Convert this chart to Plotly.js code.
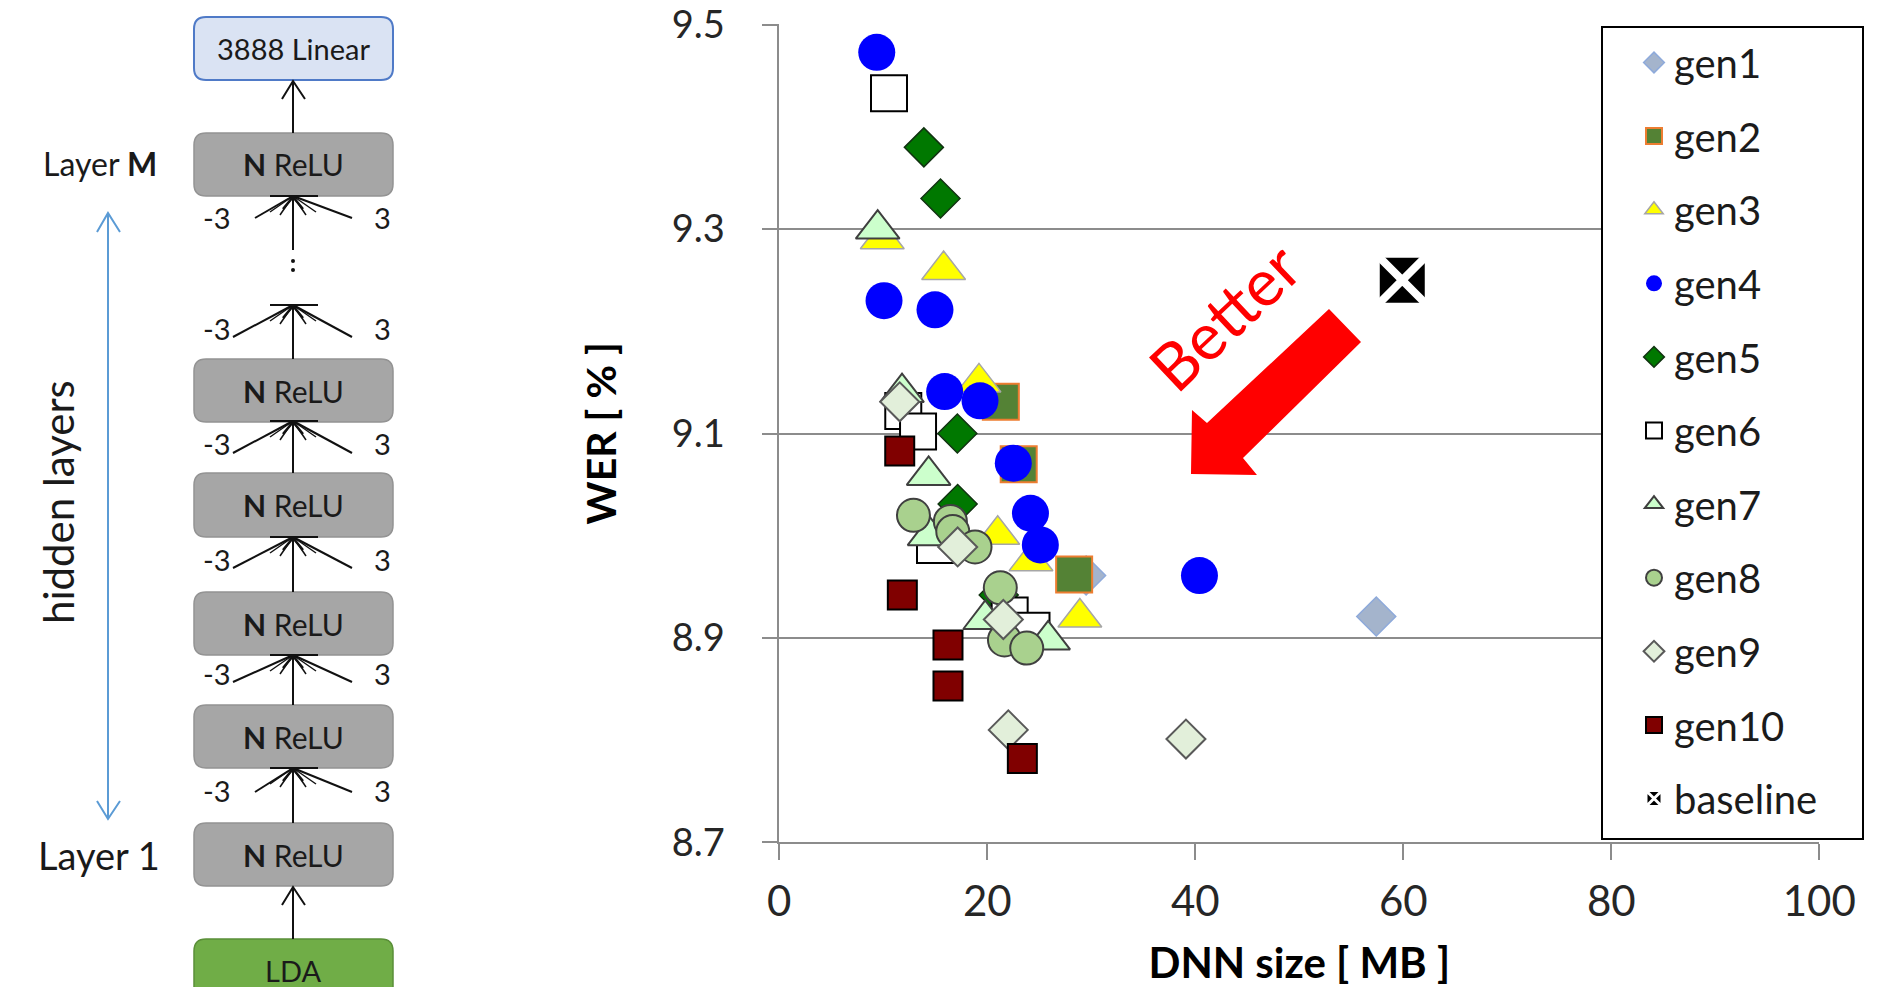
<!DOCTYPE html>
<html><head><meta charset="utf-8">
<script src="https://cdn.plot.ly/plotly-3.0.1.min.js"></script>
<style>html,body{margin:0;padding:0;background:#fff;overflow:hidden}#chart{width:1896px;height:987px}</style>
</head><body><div id="chart"></div>
<script>
// ---------------- data ----------------
const seriesNames = ['gen1','gen2','gen3','gen4','gen5','gen6','gen7','gen8','gen9','gen10','baseline'];
const gen1X = [29.5, 57.4];
const gen1Y = [8.961, 8.921];
const gen2X = [21.3, 23.02, 28.35];
const gen2Y = [9.131, 9.070, 8.962];
const gen3X = [9.9, 15.8, 19.2, 21.0, 24.2, 28.9];
const gen3Y = [9.290, 9.260, 9.150, 9.001, 8.975, 8.920];
const gen4X = [9.37, 10.07, 14.97, 15.9, 19.3, 22.5, 24.15, 25.1, 40.4];
const gen4Y = [9.473, 9.230, 9.221, 9.141, 9.132, 9.071, 9.022, 8.991, 8.961];
const gen5X = [13.9, 15.5, 17.12, 17.15, 21.1];
const gen5Y = [9.380, 9.330, 9.100, 9.031, 8.942];
const gen6X = [10.55, 11.92, 13.34, 14.97, 22.15, 24.25];
const gen6Y = [9.433, 9.122, 9.102, 8.991, 8.922, 8.907];
const gen7X = [9.46, 11.8, 14.36, 14.45, 19.8, 25.85];
const gen7Y = [9.300, 9.140, 9.059, 9.000, 8.918, 8.898];
const gen8X = [12.9, 16.45, 16.68, 18.82, 21.25, 21.65, 23.79];
const gen8Y = [9.020, 9.014, 9.004, 8.989, 8.949, 8.898, 8.890];
const gen9X = [11.58, 17.15, 21.54, 22.02, 39.1];
const gen9Y = [9.131, 8.989, 8.918, 8.810, 8.801];
const gen10X = [11.58, 11.83, 16.22, 16.22, 23.37];
const gen10Y = [9.083, 8.942, 8.893, 8.853, 8.782];
const baselineX = [59.9];
const baselineY = [9.250];
const xTickVals = [0, 20, 40, 60, 80, 100];
const yTickVals = [8.7, 8.9, 9.1, 9.3, 9.5];

const seriesX = [gen1X, gen2X, gen3X, gen4X, gen5X, gen6X, gen7X, gen8X, gen9X, gen10X, baselineX];
const seriesY = [gen1Y, gen2Y, gen3Y, gen4Y, gen5Y, gen6Y, gen7Y, gen8Y, gen9Y, gen10Y, baselineY];

// ---------------- styles ----------------
const markerStyles = [
  {symbol:'diamond', size:30, color:'#a4b4cc', line:{color:'#8eaadb', width:1.5}},
  {symbol:'square', size:36, color:'#548235', line:{color:'#ed7d31', width:2}},
  {symbol:'triangle-up', size:38, color:'#ffff00', line:{color:'#a6a6a6', width:1.5}},
  {symbol:'circle', size:37, color:'#0000ff', line:{color:'#0000ff', width:0}},
  {symbol:'diamond', size:30, color:'#007800', line:{color:'#113311', width:1.5}},
  {symbol:'square', size:36, color:'#ffffff', line:{color:'#000000', width:2}},
  {symbol:'triangle-up', size:38, color:'#ccffcc', line:{color:'#3f3f3f', width:2}},
  {symbol:'circle', size:33, color:'#a9d18e', line:{color:'#404040', width:2}},
  {symbol:'diamond', size:30, color:'#e2efda', line:{color:'#595959', width:2}},
  {symbol:'square', size:29, color:'#800000', line:{color:'#000000', width:2}},
  {symbol:'square-x', size:48, color:'#000000', line:{color:'#ffffff', width:3}}
];

const traces = seriesNames.map((n, i) => ({
  type:'scatter', mode:'markers', name:n, legendgroup:n,
  x: seriesX[i], y: seriesY[i], marker: markerStyles[i], hoverinfo:'skip'
}));
// thicker white cross on the baseline marker (plot only)
traces.push({type:'scatter', mode:'markers', x: baselineX, y: baselineY, showlegend:false, hoverinfo:'skip',
  legendgroup:'baseline', marker:{symbol:'x-thin', size:58, line:{color:'#ffffff', width:8}}});

// ---------------- page geometry helpers (pixels -> paper) ----------------
const W = 1896, H = 987;
const px = v => v / W;
const py = v => 1 - v / H;
const P = (x, y) => px(x).toFixed(5) + ',' + py(y).toFixed(5);

const shapes = [];
const annotations = [];
const FONT = 'Lato, "Open Sans", sans-serif';
const TXT = '#1a1a1a';

function line(x0, y0, x1, y1, color, w) {
  shapes.push({type:'line', xref:'paper', yref:'paper', x0:px(x0), y0:py(y0), x1:px(x1), y1:py(y1), line:{color:color, width:w}});
}
function poly(pts, color, w) {
  shapes.push({type:'path', xref:'paper', yref:'paper', path:'M' + pts.map(p => P(p[0], p[1])).join(' L'), line:{color:color, width:w}, fillcolor:'rgba(0,0,0,0)'});
}
function roundRect(x0, y0, x1, y1, r, fill, stroke, w) {
  const d = 'M' + P(x0 + r, y0) + ' L' + P(x1 - r, y0) + ' Q' + P(x1, y0) + ' ' + P(x1, y0 + r) +
    ' L' + P(x1, y1 - r) + ' Q' + P(x1, y1) + ' ' + P(x1 - r, y1) + ' L' + P(x0 + r, y1) +
    ' Q' + P(x0, y1) + ' ' + P(x0, y1 - r) + ' L' + P(x0, y0 + r) + ' Q' + P(x0, y0) + ' ' + P(x0 + r, y0) + ' Z';
  shapes.push({type:'path', xref:'paper', yref:'paper', path:d, fillcolor:fill, line:{color:stroke, width:w}, layer:'above'});
}
function text(x, y, t, size, opts) {
  annotations.push(Object.assign({xref:'paper', yref:'paper', x:px(x), y:py(y), text:t, showarrow:false,
    xanchor:'center', yanchor:'middle', font:{family:FONT, size:size, color:TXT}}, opts || {}));
}

// ---------------- left diagram ----------------
const BX0 = 194, BX1 = 393, CX = 293;
roundRect(BX0, 17, BX1, 80, 12, '#dae3f3', '#4f7ac7', 2);
text(CX, 48, '3888 Linear', 29);
const reluBoxes = [[133,196],[359,422],[473,537],[592,655],[705,768],[823,886]];
reluBoxes.forEach(b => {
  roundRect(BX0, b[0], BX1, b[1], 12, '#a6a6a6', '#939393', 1.5);
  text(CX, (b[0] + b[1]) / 2, '<b>N</b> ReLU', 30);
});
roundRect(BX0, 939, BX1, 1010, 12, '#70ad47', '#5a8f38', 1.5);
text(CX, 970, 'LDA', 29);

// arrows between boxes
line(CX, 133, CX, 81, '#111', 2);
poly([[282, 99], [CX, 81], [305, 99]], '#111', 2);
line(CX, 939, CX, 887, '#111', 2);
poly([[282, 905], [CX, 887], [305, 905]], '#111', 2);

// context fans (-3 ... 3)
const fans = [
  {apex:196, oy:218, olx:255, from:250, ly:218},
  {apex:305, oy:337, olx:233, from:359, ly:328},
  {apex:421, oy:453, olx:233, from:473, ly:443},
  {apex:537, oy:568, olx:233, from:592, ly:559},
  {apex:655, oy:682, olx:233, from:705, ly:673},
  {apex:768, oy:792, olx:255, from:823, ly:790}
];
fans.forEach(f => {
  const a = f.apex;
  line(f.olx, f.oy, CX, a, '#111', 2);
  line(352, f.oy, CX, a, '#111', 2);
  line(CX, f.from, CX, a, '#111', 2);
  line(270, a + 16, CX, a, '#111', 1.5);
  line(280, a + 19, CX, a, '#111', 1.5);
  line(306, a + 19, CX, a, '#111', 1.5);
  line(316, a + 16, CX, a, '#111', 1.5);
  poly([[283, a + 13], [CX, a + 1], [303, a + 13]], '#111', 2.5);
  line(270, a, 318, a, '#111', 2);
  text(217, f.ly, '-3', 29);
  text(382, f.ly, '3', 29);
});
// vertical dots
shapes.push({type:'circle', xref:'paper', yref:'paper', x0:px(291), x1:px(295), y0:py(259), y1:py(263), fillcolor:'#111', line:{width:0}});
shapes.push({type:'circle', xref:'paper', yref:'paper', x0:px(291), x1:px(295), y0:py(268), y1:py(272), fillcolor:'#111', line:{width:0}});

// hidden-layers double arrow
line(108, 213, 108, 819, '#5b9bd5', 2);
poly([[97, 232], [108, 213], [120, 232]], '#5b9bd5', 2);
poly([[97, 801], [108, 819], [120, 801]], '#5b9bd5', 2);
text(58, 502, 'hidden layers', 42, {textangle:-90});
text(100, 163, 'Layer <b>M</b>', 32);
text(99, 855, 'Layer 1', 38);

// ---------------- chart decorations ----------------
// legend frame
shapes.push({type:'rect', xref:'paper', yref:'paper', x0:px(1602), x1:px(1863), y0:py(839), y1:py(27),
  fillcolor:'#ffffff', line:{color:'#000000', width:2}, layer:'above'});
// "Better" arrow
shapes.push({type:'path', xref:'paper', yref:'paper', layer:'above',
  path:'M' + [[1329,309],[1361,342],[1243,458],[1257,475],[1191,474],[1192,410],[1207,423]].map(p => P(p[0], p[1])).join(' L') + ' Z',
  fillcolor:'#ff0000', line:{width:0}});
text(1224, 316, 'Better', 65, {textangle:-43.5, font:{family:FONT, size:65, color:'#ff0000'}});

// ---------------- layout ----------------
const layout = {
  width: W, height: H,
  margin: {l:0, r:0, t:0, b:0},
  paper_bgcolor: '#ffffff', plot_bgcolor: 'rgba(0,0,0,0)',
  showlegend: true,
  xaxis: {
    domain: [779.3 / W, 1819.3 / W], range: [0, 100], tickvals: xTickVals,
    ticks: 'outside', ticklen: 16, tickwidth: 2, tickcolor: '#8c8c8c',
    showline: true, linecolor: '#8c8c8c', linewidth: 2, showgrid: false, zeroline: false,
    tickfont: {family: FONT, size: 42, color: '#262626'}, ticklabelstandoff: 5,
    automargin: false,
    title: {text: 'DNN size [ MB ]', standoff: 25, font: {family: FONT, size: 42, color: '#000', weight: 'bold'}}
  },
  yaxis: {
    domain: [1 - 842.3 / H, 1 - 24.3 / H], range: [8.7, 9.5004], tickvals: yTickVals, tickformat: '.1f',
    ticks: 'outside', ticklen: 15, tickwidth: 2, tickcolor: '#8c8c8c',
    showline: true, linecolor: '#8c8c8c', linewidth: 2, showgrid: true, gridcolor: '#8c8c8c', gridwidth: 2,
    zeroline: false, tickfont: {family: FONT, size: 38, color: '#262626'}, ticklabelstandoff: 30,
    automargin: false,
    title: {text: 'WER [ % ]', standoff: 42, font: {family: FONT, size: 41, color: '#000', weight: 'bold'}}
  },
  legend: {
    x: px(1634), xanchor: 'left', y: py(30), yanchor: 'top',
    bgcolor: 'rgba(0,0,0,0)', borderwidth: 0, tracegroupgap: 18.6, itemsizing: 'trace',
    font: {family: FONT, size: 40, color: '#1b1b1b'}
  },
  shapes: shapes,
  annotations: annotations
};

Plotly.newPlot('chart', traces, layout, {displayModeBar: false, staticPlot: true});
</script>
</body></html>
